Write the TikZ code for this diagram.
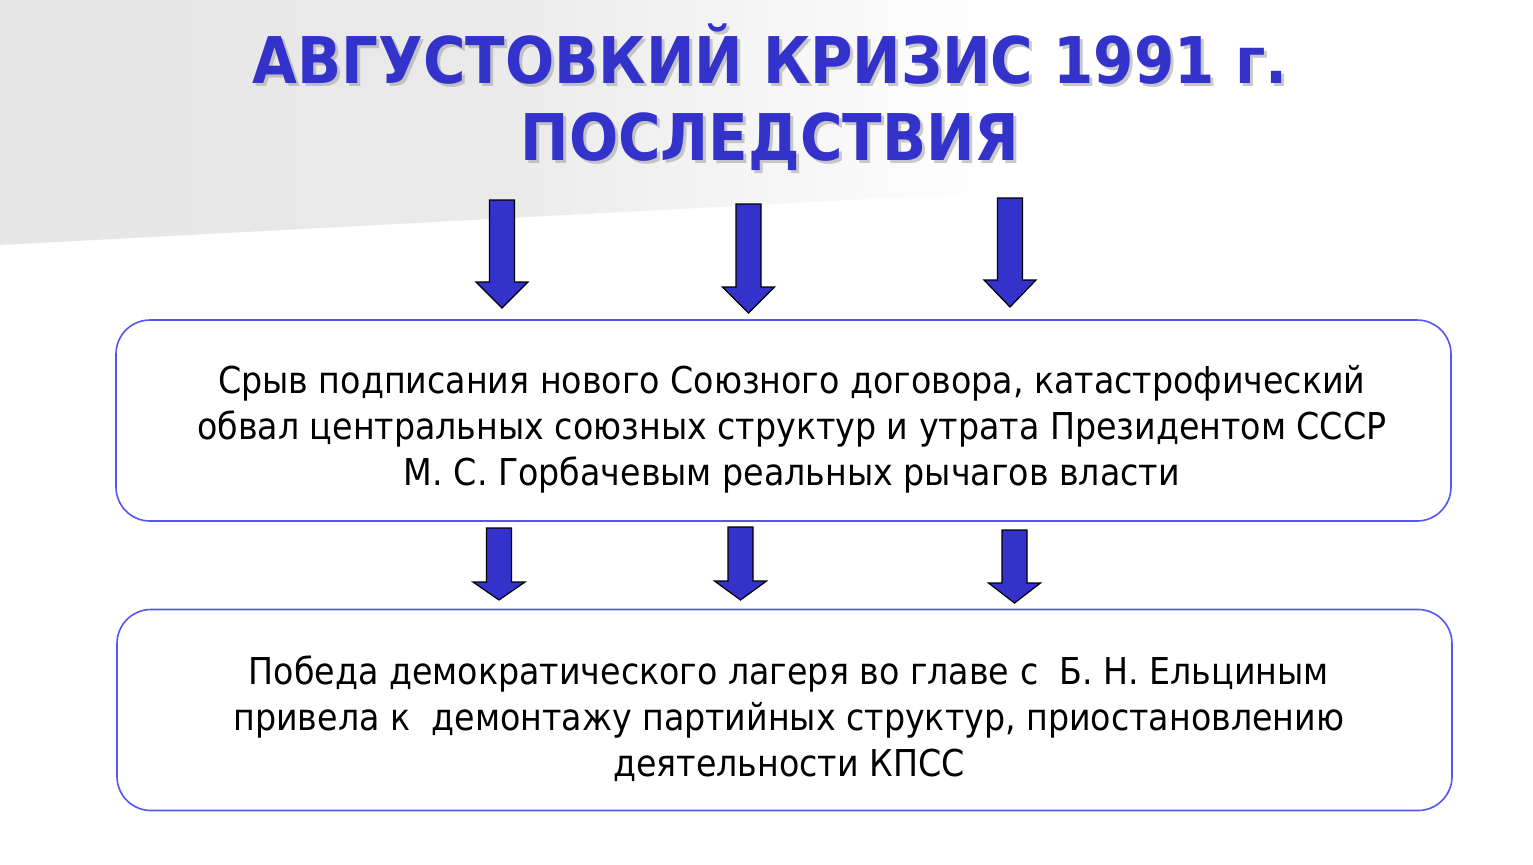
\documentclass[tikz,border=0pt]{standalone}
\usepackage{fontspec}
\setmainfont{DejaVu Sans Condensed}
\usepackage{tikz}
\usetikzlibrary{positioning, calc}
\definecolor{titleBlue}{RGB}{51,51,204}
\definecolor{boxBlue}{RGB}{85,85,240}
\tikzset{
	consbox/.style={draw=boxBlue, line width=0.8pt, rounded corners=17pt, fill=white,
		minimum width=667.5pt, minimum height=100.5pt},
	constext/.style={align=center, font=\fontsize{18.5}{23}\selectfont},
	titletext/.style={align=center, font=\fontsize{32.2}{38.5}\selectfont\bfseries},
	blockarrow/.style={fill=titleBlue, draw=black, line width=0.6pt, line join=miter}
}

\begin{document}
\begin{tikzpicture}[x=0.5pt, y=-0.5pt]
	% IMAGE SIZE
	\useasboundingbox (0,0) rectangle (1533,864);
	\fill[white] (0,0) rectangle (1533,864);
	
	% grey band behind the title
	\shade[left color=black!10, right color=white, middle color=black!8]
	(0,0) -- (1000,0) -- (1000,192) -- (0,245) -- cycle;
	
	% Title (base = last line)
	\node[titletext, black!35, opacity=0.6, anchor=base] (titleShadow) at (773,163)
	{АВГУСТОВКИЙ КРИЗИС 1991 г.\\ПОСЛЕДСТВИЯ};
	\node[titletext, titleBlue, anchor=base] (title) at (770,160)
	{АВГУСТОВКИЙ КРИЗИС 1991 г.\\ПОСЛЕДСТВИЯ};
	
	% Boxes
	\node[consbox] (cons) at (783.5,420.5) {};
	\node[constext, anchor=center] (consText) at (792,429)
	{Срыв подписания нового Союзного договора, катастрофический\\
		обвал центральных союзных структур и утрата Президентом СССР\\
		М. С. Горбачевым реальных рычагов власти};
	
	\node[consbox] (result) at (784.5,710) {};
	\node[constext, anchor=center] (resultText) at (789,719)
	{Победа демократического лагеря во главе с~~Б. Н. Ельциным\\
		привела к~~демонтажу партийных структур, приостановлению\\
		деятельности КПСС};
	
	% Block arrows: x / top / head base / tip
	\newcommand{\shaftW}{12.5} \newcommand{\headW}{26}
	\foreach \x/\t/\b/\e in {502/200/282/308, 748.5/204/287/313, 1010/198/280/307,
		499/528/582/600, 740.5/527/581/600, 1014.5/530/583/603}
	{
		\draw[blockarrow] (\x-\shaftW,\t) -- (\x+\shaftW,\t) -- (\x+\shaftW,\b)
		-- (\x+\headW,\b) -- (\x,\e) -- (\x-\headW,\b) -- (\x-\shaftW,\b) -- cycle;
	}
\end{tikzpicture}
\end{document}
